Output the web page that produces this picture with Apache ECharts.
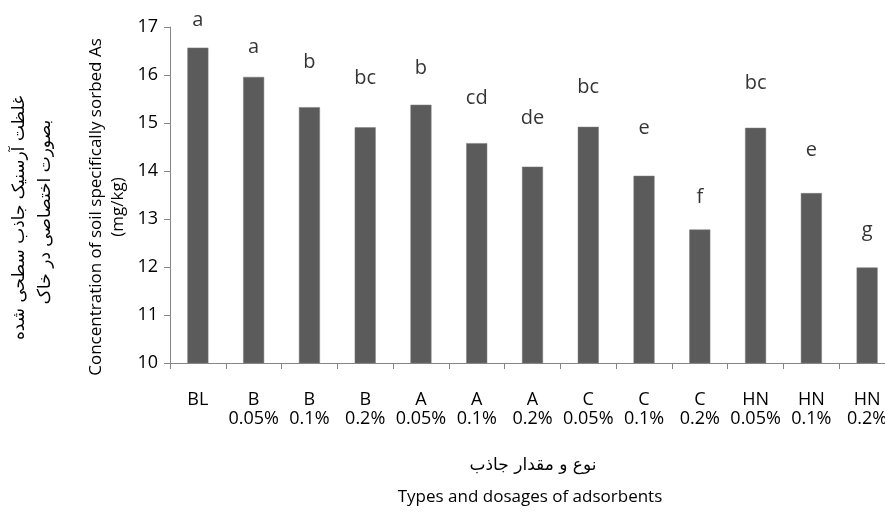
<!DOCTYPE html>
<html><head><meta charset="utf-8">
<script src="https://cdn.jsdelivr.net/npm/echarts@6/dist/echarts.min.js"></script>
<style>html,body{margin:0;padding:0;background:#fff;overflow:hidden;width:885px;height:512px}#c{width:895px;height:512px}</style>
</head><body><div id="c"></div>
<script>
const categories = ['BL','B\n0.05%','B\n0.1%','B\n0.2%','A\n0.05%','A\n0.1%','A\n0.2%','C\n0.05%','C\n0.1%','C\n0.2%','HN\n0.05%','HN\n0.1%','HN\n0.2%'];
const values = [16.57, 15.96, 15.33, 14.91, 15.38, 14.58, 14.09, 14.92, 13.90, 12.78, 14.90, 13.54, 11.99];
const letters = ['a','a','b','bc','b','cd','de','bc','e','f','bc','e','g'];
const letterHeights = [17.15, 16.58, 16.27, 15.94, 16.13, 15.52, 15.10, 15.75, 14.90, 13.46, 15.83, 14.44, 12.77];
const yTicks = {min: 10, max: 17, interval: 1};

const FONT = 'Open Sans';
const chart = echarts.init(document.getElementById('c'), null, {renderer: 'canvas'});
chart.setOption({
  animation: false,
  backgroundColor: '#fff',
  grid: {left: 170, top: 27, bottom: 149, right: 0},
  xAxis: {
    type: 'category', data: categories,
    axisLine: {lineStyle: {color: '#868686', width: 1}},
    axisTick: {show: true, length: 6, lineStyle: {color: '#868686'}},
    axisLabel: {interval: 0, margin: 27, color: '#000', fontFamily: FONT, fontSize: 18, lineHeight: 19}
  },
  yAxis: {
    type: 'value', min: yTicks.min, max: yTicks.max, interval: yTicks.interval,
    splitLine: {show: false},
    axisLine: {show: true, lineStyle: {color: '#868686', width: 1}},
    axisTick: {show: true, length: 6, lineStyle: {color: '#868686'}},
    axisLabel: {margin: 12, color: '#000', fontFamily: FONT, fontSize: 18}
  },
  series: [
    {
      type: 'bar', data: values, barWidth: 21,
      itemStyle: {color: '#5b5b5b', borderColor: '#7a7a7a', borderWidth: 0.5}
    },
    {
      type: 'scatter', clip: false, symbolSize: 1,
      itemStyle: {color: 'rgba(0,0,0,0)'},
      data: letterHeights.map((v, i) => ({value: v, label: {formatter: letters[i]}})),
      label: {show: true, position: 'inside', color: '#000', fontFamily: FONT, fontSize: 20}
    }
  ],
  graphic: [
    {type: 'text', x: 20, y: 218, rotation: Math.PI / 2,
     style: {text: 'غلظت آرسنیک جاذب سطحی شده', font: '17px "DejaVu Sans"', fill: '#000', align: 'center', verticalAlign: 'middle'}},
    {type: 'text', x: 46, y: 212, rotation: Math.PI / 2,
     style: {text: 'بصورت اختصاصی در خاک', font: '17px "DejaVu Sans"', fill: '#000', align: 'center', verticalAlign: 'middle'}},
    {type: 'text', x: 107, y: 207, rotation: Math.PI / 2,
     style: {text: 'Concentration of soil specifically sorbed As\n(mg/kg)', font: '17px "Open Sans"', lineHeight: 22, fill: '#000', align: 'center', verticalAlign: 'middle'}},
    {type: 'text', x: 533, y: 466,
     style: {text: 'نوع و مقدار جاذب', font: '17px "DejaVu Sans"', fill: '#000', align: 'center', verticalAlign: 'middle'}},
    {type: 'text', x: 530, y: 497,
     style: {text: 'Types and dosages of adsorbents', font: '17px "Open Sans"', fill: '#000', align: 'center', verticalAlign: 'middle'}}
  ]
});
</script></body></html>
